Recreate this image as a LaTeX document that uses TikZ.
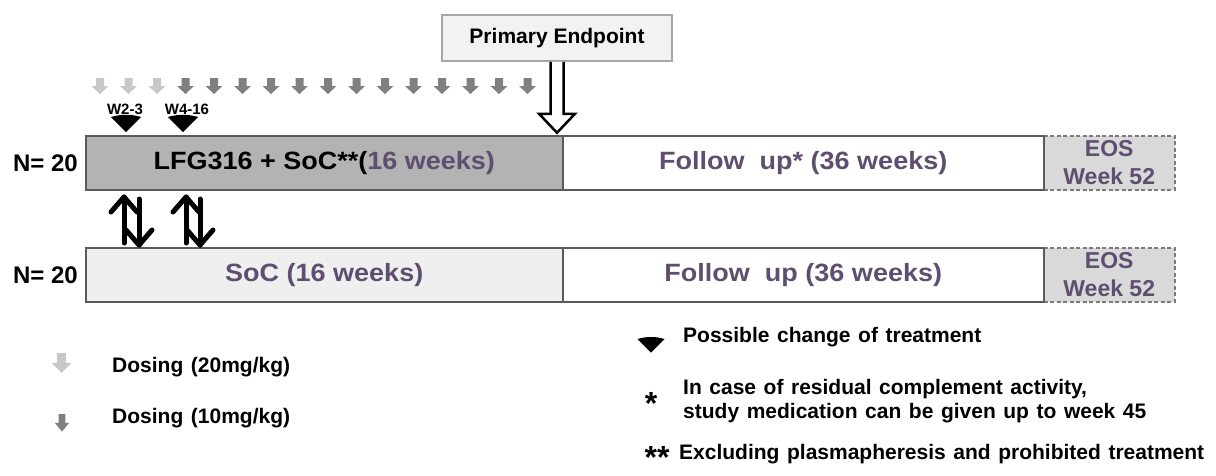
\documentclass[tikz,border=0pt]{standalone}
\usepackage{fontspec}
\usepackage{graphicx}
\setmainfont{Liberation Sans}
\usetikzlibrary{calc}
\definecolor{tpurple}{RGB}{94,78,112}
\definecolor{bordergray}{RGB}{90,90,90}
\definecolor{trtgray}{RGB}{179,179,179}
\definecolor{socgray}{RGB}{239,239,239}
\definecolor{eosgray}{RGB}{217,217,217}
\definecolor{pegray}{RGB}{242,242,242}
\definecolor{peborder}{RGB}{166,166,166}
\definecolor{doselight}{RGB}{200,200,200}
\definecolor{dosedark}{RGB}{128,128,128}
\newcommand{\fsz}[2]{\fontsize{#1}{#2}\selectfont}
\newcommand{\wide}[1]{\scalebox{1.08}[1]{#1}}
\newcommand{\legfont}{\bfseries\fsz{21}{24}\spaceskip=0.36em plus 0.1em\relax}
\begin{document}
\begin{tikzpicture}[x=1pt,y=-1pt,
  bar/.style={draw=bordergray, line width=1.5pt, anchor=north west, inner sep=0pt,
    minimum height=54pt, align=center, font=\bfseries\fsz{25}{29}, text=tpurple},
  eosbox/.style={bar, draw=bordergray!80, dash pattern=on 4pt off 2.5pt, fill=eosgray,
    minimum width=131pt, font=\bfseries\fsz{23}{28}},
  nlabel/.style={font=\bfseries\fsz{24}{27}, anchor=east, inner sep=0pt},
  wlabel/.style={font=\bfseries\fsz{15}{18}, inner sep=0pt},
  legend/.style={font=\legfont, anchor=west, inner sep=0pt, align=left},
  starlabel/.style={font=\bfseries\fsz{32}{32}, anchor=north, inner sep=0pt},
  ud/.style={line width=5pt, line cap=round, line join=round},
  dose/.pic={\fill (-4,0) -- (4,0) -- (4,8) -- (8.5,8) -- (0,16) -- (-8.5,8) -- (-4,8) -- cycle;},
  chg/.pic={\fill (-15,0) .. controls (-5,-3) and (5,-3) .. (15,0) -- (0,15) -- cycle;}
]
\useasboundingbox (0,0) rectangle (1216,475);

% top arm
\node[bar, fill=trtgray, minimum width=477pt] (trt) at (85,135)
  {\wide{\textcolor{black}{LFG316 + SoC**(}16 weeks)}};
\node[eosbox] (eos1) at (1043,135) {EOS\\Week 52};
\node[bar, fill=white, minimum width=481pt] (fu1) at (562,135) {\wide{Follow\ \ up* (36 weeks)}};
\node[nlabel] (n1) at ($(trt.west)+(-7,0)$) {N= 20};

% bottom arm
\node[bar, fill=socgray, minimum width=477pt] (soc) at (85,247) {\wide{SoC (16 weeks)}};
\node[eosbox] (eos2) at (1043,247) {EOS\\Week 52};
\node[bar, fill=white, minimum width=481pt] (fu2) at (562,247) {\wide{Follow\ \ up (36 weeks)}};
\node[nlabel] (n2) at ($(soc.west)+(-7,0)$) {N= 20};

% primary endpoint
\node[draw=peborder, fill=pegray, line width=1.5pt, minimum width=230pt, minimum height=46pt,
  inner sep=0pt, font=\bfseries\fsz{21}{25}] (pe) at (557,38) {Primary Endpoint};
\coordinate (ps) at (pe.south);
\draw[line width=2.5pt, fill=white, line join=miter]
  ($(ps)+(-6.5,0)$) -- ($(ps)+(-6.5,52)$) -- ($(ps)+(-18,52)$) -- ($(ps)+(0,71)$)
  -- ($(ps)+(18,52)$) -- ($(ps)+(6.5,52)$) -- ($(ps)+(6.5,0)$);

% dosing arrows
\foreach \i in {0,1,2} { \pic[doselight] at ({100+28.5*\i},78) {dose}; }
\foreach \i in {3,...,15} { \pic[dosedark] at ({100+28.5*\i},78) {dose}; }

% change of treatment markers
\node[wlabel] (w23) at (125,109) {W2-3};
\node[wlabel] (w416) at (187,109) {W4-16};
\pic[black] at (126,117) {chg};
\pic[black] at (183,117) {chg};

% switch arrows between arms
\foreach \ux/\dx in {124/139, 186/200} {
  \draw[ud] (\ux,243) -- (\ux,197);
  \draw[ud] (\ux-13,212) -- (\ux,197) -- (\ux+13,212);
  \draw[ud] (\dx,199) -- (\dx,245);
  \draw[ud] (\dx-13,230) -- (\dx,245) -- (\dx+13,230);
}

% legend left
\pic[doselight, xscale=1.15, yscale=1.25] at (61.5,353) {dose};
\node[legend] (l20) at (112,367) {Dosing (20mg/kg)};
\pic[dosedark, xscale=0.85, yscale=1.1] at (62,414) {dose};
\node[legend] (l10) at (112,418) {Dosing (10mg/kg)};

% legend right
\pic[black, scale=0.9] at (651,339) {chg};
\node[legend] (lchg) at (683,337) {Possible change of treatment};
\node[starlabel] (s1) at (651,392) {*};
\node[legend] (lstar) at (683,401) {In case of residual complement activity,\\study medication can be given up to week 45};
\node[starlabel] (s2) at (657,446) {**};
\node[legend] (lss) at (679,454) {Excluding plasmapheresis and prohibited treatment};
\end{tikzpicture}
\end{document}
